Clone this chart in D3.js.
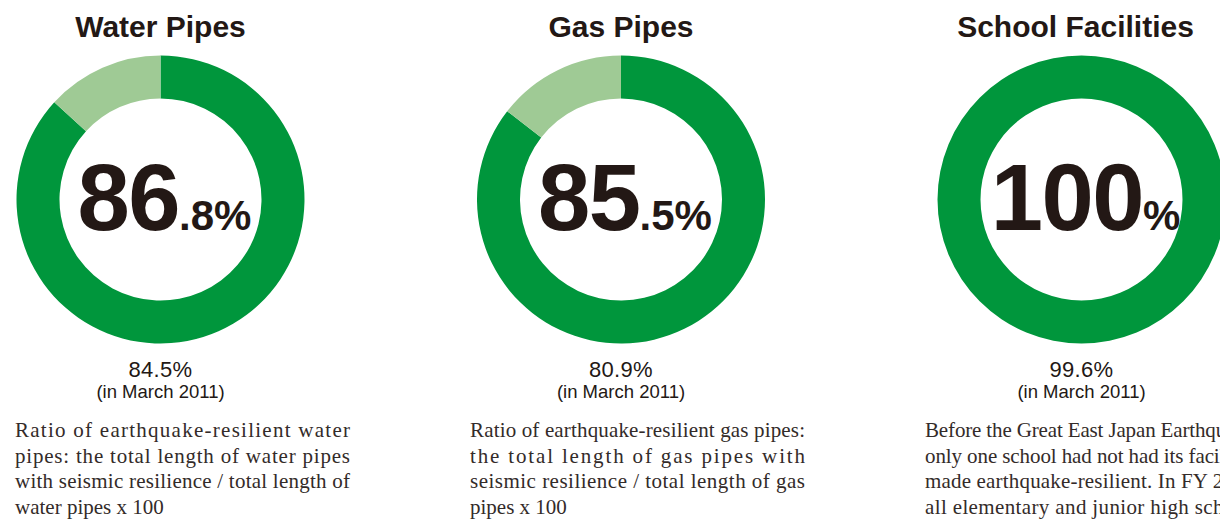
<!DOCTYPE html>
<html>
<head>
<meta charset="utf-8">
<script src="https://cdn.jsdelivr.net/npm/d3@7"></script>
<style>
  body { margin: 0; background: #fff; }
  svg { display: block; }
</style>
</head>
<body>
<script>
const width = 1220
const height = 520
const dark_green = "#00963c"
const light_green = "#9fca95"
const ink = "#231815"

const titles = ["Water Pipes", "Gas Pipes", "School Facilities"]
const current_values = [86.8, 85.5, 100]
const march_2011_values = [84.5, 80.9, 99.6]
const march_label = "(in March 2011)"
const descriptions = [
  ["Ratio of earthquake-resilient water",
   "pipes: the total length of water pipes",
   "with seismic resilience / total length of",
   "water pipes x 100"],
  ["Ratio of earthquake-resilient gas pipes:",
   "the total length of gas pipes with",
   "seismic resilience / total length of gas",
   "pipes x 100"],
  ["Before the Great East Japan Earthquake,",
   "only one school had not had its facilities",
   "made earthquake-resilient. In FY 2011,",
   "all elementary and junior high schools"]
]

var svg = d3.select("body").append("svg")
            .attr("width", width)
            .attr("height", height)

// centre of each ring, and left edge of each paragraph
var cx = d3.scalePoint().domain(titles).range([160.5, 1081.5])
var px = d3.scalePoint().domain(titles).range([15, 925])

var pie = d3.pie().sort(null).value(d => d)
var arc = d3.arc().innerRadius(101).outerRadius(144)

var ring_cy = 199.5
var text_width = 335

titles.forEach(function(title, i) {
  var x = cx(title)

  svg.append("text")
     .attr("x", i == 2 ? x - 6 : x)
     .attr("y", 37)
     .attr("text-anchor", "middle")
     .style("font-family", "'Liberation Sans', Arial, sans-serif")
     .style("font-weight", "bold")
     .style("font-size", "30px")
     .style("fill", ink)
     .text(title)

  var g = svg.append("g").attr("transform", "translate(" + x + "," + ring_cy + ")")
  g.selectAll("path")
   .data(pie([current_values[i], 100 - current_values[i]]))
   .enter().append("path")
   .attr("d", arc)
   .style("fill", (d, j) => j == 0 ? dark_green : light_green)

  // big number in the middle
  var parts = String(current_values[i]).split(".")
  var num = svg.append("text")
     .attr("x", x + 4)
     .attr("y", 230)
     .attr("text-anchor", "middle")
     .style("font-family", "'Liberation Sans', Arial, sans-serif")
     .style("font-weight", "bold")
     .style("fill", ink)
  num.append("tspan")
     .style("font-size", "94px")
     .style("letter-spacing", "-1.5px")
     .text(parts[0])
  num.append("tspan")
     .style("font-size", "42px")
     .text((parts.length > 1 ? "." + parts[1] : "") + "%")

  svg.append("text")
     .attr("x", x)
     .attr("y", 377)
     .attr("text-anchor", "middle")
     .style("font-family", "'Liberation Sans', Arial, sans-serif")
     .style("font-size", "22px")
     .style("letter-spacing", "0.3px")
     .style("fill", ink)
     .text(d3.format(".1f")(march_2011_values[i]) + "%")

  svg.append("text")
     .attr("x", x)
     .attr("y", 398)
     .attr("text-anchor", "middle")
     .style("font-family", "'Liberation Sans', Arial, sans-serif")
     .style("font-size", "18.5px")
     .style("fill", ink)
     .text(march_label)

  var lines = descriptions[i]
  lines.forEach(function(line, k) {
    var t = svg.append("text")
       .attr("x", px(title))
       .attr("y", 437 + k * 25.5)
       .style("font-family", "'Liberation Serif', 'Times New Roman', serif")
       .style("font-size", "21px")
       .style("fill", "#332b29")
       .text(line)
    // justified lines except the last one
    if (k < lines.length - 1 || i == 2) {
      t.attr("textLength", text_width).attr("lengthAdjust", "spacing")
    }
  })
})
</script>
</body>
</html>
